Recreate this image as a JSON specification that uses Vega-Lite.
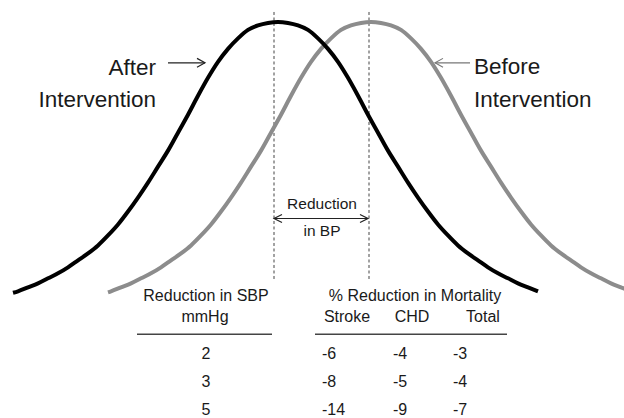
{
  "$schema": "https://vega.github.io/schema/vega-lite/v6.json",
  "width": 624,
  "height": 418,
  "padding": 0,
  "autosize": {"type": "fit", "contains": "padding"},
  "background": "white",
  "config": {"view": {"stroke": null}, "text": {"font": "Liberation Sans, Arial, sans-serif", "color": "#1a1a1a", "baseline": "alphabetic"}},
  "datasets": {
    "after": [
      {"x": 13, "y": 293.5}, {"x": 18, "y": 292}, {"x": 28, "y": 288}, {"x": 38, "y": 284}, {"x": 48, "y": 279}, {"x": 58, "y": 274}, {"x": 68, "y": 268}, {"x": 78, "y": 261}, {"x": 88, "y": 254}, {"x": 98, "y": 246}, {"x": 108, "y": 236}, {"x": 118, "y": 225}, {"x": 128, "y": 212}, {"x": 138, "y": 198}, {"x": 148, "y": 183}, {"x": 158, "y": 167}, {"x": 168, "y": 151}, {"x": 178, "y": 133}, {"x": 188, "y": 115}, {"x": 198, "y": 96}, {"x": 208, "y": 78}, {"x": 218, "y": 62}, {"x": 228, "y": 49}, {"x": 238, "y": 38.5}, {"x": 248, "y": 30}, {"x": 258, "y": 25.5}, {"x": 268, "y": 23}, {"x": 278, "y": 22}, {"x": 288, "y": 23}, {"x": 298, "y": 25.5}, {"x": 308, "y": 30}, {"x": 318, "y": 38.5}, {"x": 328, "y": 49}, {"x": 338, "y": 62}, {"x": 348, "y": 78}, {"x": 358, "y": 96}, {"x": 368, "y": 115}, {"x": 378, "y": 133}, {"x": 388, "y": 151}, {"x": 398, "y": 167}, {"x": 408, "y": 183}, {"x": 418, "y": 198}, {"x": 428, "y": 212}, {"x": 438, "y": 225}, {"x": 448, "y": 236}, {"x": 458, "y": 246}, {"x": 468, "y": 254}, {"x": 478, "y": 261}, {"x": 488, "y": 268}, {"x": 498, "y": 274}, {"x": 508, "y": 279}, {"x": 518, "y": 284}, {"x": 528, "y": 288}, {"x": 538, "y": 292}
    ],
    "before": [
      {"x": 108, "y": 293}, {"x": 111, "y": 292}, {"x": 121, "y": 288}, {"x": 131, "y": 284}, {"x": 141, "y": 279}, {"x": 151, "y": 274}, {"x": 161, "y": 268}, {"x": 171, "y": 261}, {"x": 181, "y": 254}, {"x": 191, "y": 246}, {"x": 201, "y": 236}, {"x": 211, "y": 225}, {"x": 221, "y": 212}, {"x": 231, "y": 198}, {"x": 241, "y": 183}, {"x": 251, "y": 167}, {"x": 261, "y": 151}, {"x": 271, "y": 133}, {"x": 281, "y": 115}, {"x": 291, "y": 96}, {"x": 301, "y": 78}, {"x": 311, "y": 62}, {"x": 321, "y": 49}, {"x": 331, "y": 38.5}, {"x": 341, "y": 30}, {"x": 351, "y": 25.5}, {"x": 361, "y": 23}, {"x": 371, "y": 22}, {"x": 381, "y": 23}, {"x": 391, "y": 25.5}, {"x": 401, "y": 30}, {"x": 411, "y": 38.5}, {"x": 421, "y": 49}, {"x": 431, "y": 62}, {"x": 441, "y": 78}, {"x": 451, "y": 96}, {"x": 461, "y": 115}, {"x": 471, "y": 133}, {"x": 481, "y": 151}, {"x": 491, "y": 167}, {"x": 501, "y": 183}, {"x": 511, "y": 198}, {"x": 521, "y": 212}, {"x": 531, "y": 225}, {"x": 541, "y": 236}, {"x": 551, "y": 246}, {"x": 561, "y": 254}, {"x": 571, "y": 261}, {"x": 581, "y": 268}, {"x": 591, "y": 274}, {"x": 601, "y": 279}, {"x": 611, "y": 284}, {"x": 621, "y": 288}, {"x": 631, "y": 292}, {"x": 641, "y": 295}
    ],
    "guides": [
      {"x": 274, "y": 12, "y2": 282},
      {"x": 369, "y": 12, "y2": 282}
    ],
    "darkArrows": [
      {"seg": "a", "i": 1, "x": 168, "y": 63}, {"seg": "a", "i": 2, "x": 205, "y": 63},
      {"seg": "ah", "i": 1, "x": 197, "y": 58.5}, {"seg": "ah", "i": 2, "x": 205, "y": 63}, {"seg": "ah", "i": 3, "x": 197, "y": 67.5},
      {"seg": "b", "i": 1, "x": 274, "y": 219}, {"seg": "b", "i": 2, "x": 368, "y": 219},
      {"seg": "bl", "i": 1, "x": 282, "y": 215}, {"seg": "bl", "i": 2, "x": 274, "y": 219}, {"seg": "bl", "i": 3, "x": 282, "y": 223},
      {"seg": "br", "i": 1, "x": 360, "y": 215}, {"seg": "br", "i": 2, "x": 368, "y": 219}, {"seg": "br", "i": 3, "x": 360, "y": 223}
    ],
    "grayArrow": [
      {"seg": "c", "i": 1, "x": 435, "y": 63}, {"seg": "c", "i": 2, "x": 470, "y": 63},
      {"seg": "ch", "i": 1, "x": 443, "y": 58.5}, {"seg": "ch", "i": 2, "x": 435, "y": 63}, {"seg": "ch", "i": 3, "x": 443, "y": 67.5}
    ],
    "tableRules": [
      {"x": 137, "x2": 272, "y": 335},
      {"x": 315, "x2": 507, "y": 335}
    ],
    "bigLeft": [
      {"text": "After", "x": 156, "y": 75},
      {"text": "Intervention", "x": 156, "y": 107}
    ],
    "bigRight": [
      {"text": "Before", "x": 474, "y": 74},
      {"text": "Intervention", "x": 474, "y": 107}
    ],
    "bpLabel": [
      {"text": "Reduction", "x": 322, "y": 210},
      {"text": "in BP", "x": 322, "y": 237}
    ],
    "tableCenter": [
      {"text": "Reduction in SBP", "x": 206, "y": 302},
      {"text": "mmHg", "x": 205, "y": 323},
      {"text": "2", "x": 206, "y": 360},
      {"text": "3", "x": 206, "y": 388},
      {"text": "5", "x": 206, "y": 416},
      {"text": "% Reduction in Mortality", "x": 415, "y": 302},
      {"text": "Stroke", "x": 347, "y": 323},
      {"text": "CHD", "x": 412, "y": 323},
      {"text": "Total", "x": 483, "y": 323}
    ],
    "tableValues": [
      {"text": "-6", "x": 322, "y": 360}, {"text": "-4", "x": 393, "y": 360}, {"text": "-3", "x": 453, "y": 360},
      {"text": "-8", "x": 322, "y": 388}, {"text": "-5", "x": 393, "y": 388}, {"text": "-4", "x": 453, "y": 388},
      {"text": "-14", "x": 322, "y": 416}, {"text": "-9", "x": 393, "y": 416}, {"text": "-7", "x": 453, "y": 416}
    ]
  },
  "encoding": {
    "x": {"field": "x", "type": "quantitative", "scale": {"domain": [0, 624], "nice": false, "zero": false}, "axis": null},
    "y": {"field": "y", "type": "quantitative", "scale": {"domain": [0, 418], "nice": false, "zero": false, "reverse": true}, "axis": null}
  },
  "layer": [
    {
      "data": {"name": "guides"},
      "mark": {"type": "rule", "color": "#444444", "strokeWidth": 1, "strokeDash": [3, 2.5]},
      "encoding": {"y2": {"field": "y2"}}
    },
    {
      "data": {"name": "before"},
      "mark": {"type": "line", "color": "#8c8c8c", "strokeWidth": 4, "interpolate": "monotone", "clip": true, "strokeCap": "butt"},
      "encoding": {}
    },
    {
      "data": {"name": "after"},
      "mark": {"type": "line", "color": "#000000", "strokeWidth": 4, "interpolate": "monotone", "clip": true, "strokeCap": "butt"},
      "encoding": {}
    },
    {
      "data": {"name": "darkArrows"},
      "mark": {"type": "line", "color": "#222222", "strokeWidth": 1.2},
      "encoding": {"detail": {"field": "seg"}, "order": {"field": "i", "type": "quantitative"}}
    },
    {
      "data": {"name": "grayArrow"},
      "mark": {"type": "line", "color": "#777777", "strokeWidth": 1.1},
      "encoding": {"detail": {"field": "seg"}, "order": {"field": "i", "type": "quantitative"}}
    },
    {
      "data": {"name": "tableRules"},
      "mark": {"type": "rule", "color": "#444444", "strokeWidth": 1.5},
      "encoding": {"x2": {"field": "x2"}}
    },
    {
      "data": {"name": "bigLeft"},
      "mark": {"type": "text", "fontSize": 22.5, "align": "right"},
      "encoding": {"text": {"field": "text"}}
    },
    {
      "data": {"name": "bigRight"},
      "mark": {"type": "text", "fontSize": 22.5, "align": "left"},
      "encoding": {"text": {"field": "text"}}
    },
    {
      "data": {"name": "bpLabel"},
      "mark": {"type": "text", "fontSize": 15.5, "align": "center"},
      "encoding": {"text": {"field": "text"}}
    },
    {
      "data": {"name": "tableCenter"},
      "mark": {"type": "text", "fontSize": 16, "align": "center"},
      "encoding": {"text": {"field": "text"}}
    },
    {
      "data": {"name": "tableValues"},
      "mark": {"type": "text", "fontSize": 16, "align": "left"},
      "encoding": {"text": {"field": "text"}}
    }
  ]
}
